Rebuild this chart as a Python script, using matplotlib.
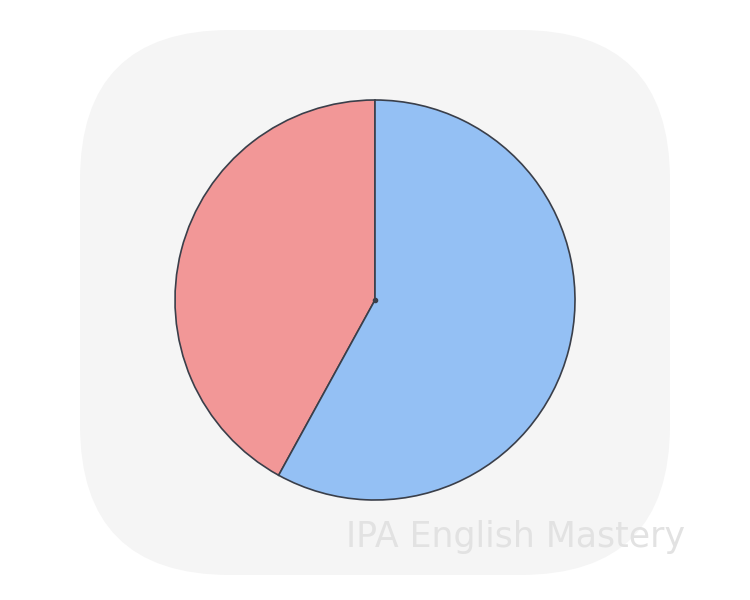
import matplotlib
matplotlib.use("Agg")
import matplotlib.pyplot as plt
from matplotlib.patches import FancyBboxPatch

labels = ["Red", "Blue"]
values = [42, 58]
colors = ["#f29797", "#94c0f4"]
watermark = "IPA English Mastery"

W, H = 750, 600
fig = plt.figure(figsize=(7.5, 6), dpi=100)
fig.patch.set_facecolor("white")

# background blob
bg = fig.add_axes([0, 0, 1, 1])
bg.set_xlim(0, W)
bg.set_ylim(H, 0)
bg.axis("off")
bg.add_patch(FancyBboxPatch((225, 175), 300, 255,
                            boxstyle="round,pad=145,rounding_size=150",
                            facecolor="#f5f5f5", edgecolor="none"))
bg.text(516, 537, watermark, ha="center", va="center", fontsize=25,
        color="#e2e2e2", family="DejaVu Sans")

# pie: circle spans x 175..575, y 100..500 (pixels)
ax = fig.add_axes([175 / W, (H - 500) / H, 400 / W, 400 / H])
ax.pie(values, colors=colors, startangle=90, counterclock=True,
       wedgeprops=dict(edgecolor="#3a3f4a", linewidth=1.2, clip_on=False))
ax.set_xlim(-1, 1)
ax.set_ylim(-1, 1)
ax.plot([0], [0], marker="o", markersize=3, color="#3a3f4a")
ax.axis("off")

fig.savefig("out.png", dpi=100)
